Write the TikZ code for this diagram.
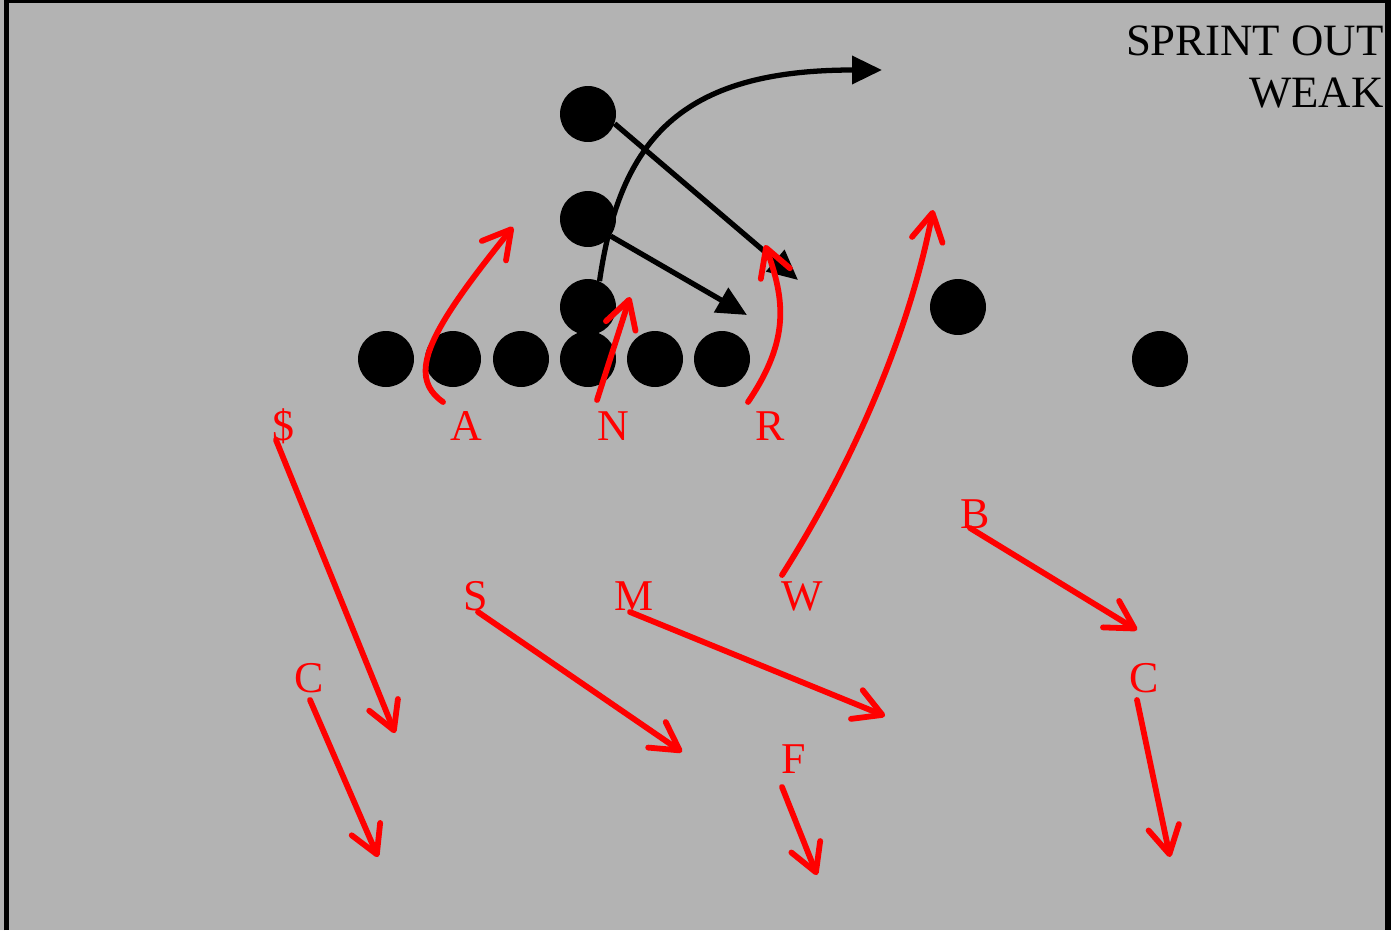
\documentclass[tikz,border=0pt]{standalone}
\usepackage{fontspec}
\setmainfont{Liberation Serif}
\usepackage{xcolor}
\usetikzlibrary{arrows.meta}

\definecolor{field}{HTML}{B3B3B3}

\begin{document}
\begin{tikzpicture}[x=0.02cm, y=-0.02cm,
  plyr/.style={circle, fill=black, inner sep=0pt, minimum size=1.12cm},
  lbl/.style={text=red, anchor=base, inner sep=0pt, font=\fontsize{25}{30}\selectfont},
  rte/.style={draw=red, line width=3.3pt, line cap=round, -{Straight Barb[length=0.55cm, width=0.62cm, round]}},
  blk/.style={draw=black, line width=3pt, -{Triangle[length=0.6cm, width=0.55cm]}}
]
\useasboundingbox (0,0) rectangle (1400,930);

% Field
\fill[field] (0,0) rectangle (1391,930);
\draw[line width=3.4pt] (6.5,930) -- (6.5,0) -- (1388,0) -- (1388,930);

\node[font=\fontsize{25.5}{30}\selectfont, align=right, anchor=north east, inner sep=0pt] (title) at (1384,25) {SPRINT OUT\\WEAK};

% Offense
\node[plyr] (ol1) at (386,359) {};
\node[plyr] (ol2) at (453,359) {};
\node[plyr] (ol3) at (521,359) {};
\node[plyr] (ol4) at (588,359) {};
\node[plyr] (ol5) at (655,359) {};
\node[plyr] (ol6) at (722,359) {};
\node[plyr] (qb)  at (588,307) {};
\node[plyr] (b2)  at (588,219) {};
\node[plyr] (b1)  at (588,114) {};
\node[plyr] (wr1) at (958,307) {};
\node[plyr] (wr2) at (1160,359) {};

% Defense
\node[lbl] (ldol) at (283,440) {\$};
\node[lbl] (lA)   at (466,440) {A};
\node[lbl] (lN)   at (613,440) {N};
\node[lbl] (lR)   at (770,440) {R};
\node[lbl] (lB)   at (975,528) {B};
\node[lbl] (lS)   at (476,610) {S};
\node[lbl] (lM)   at (634,610) {M};
\node[lbl] (lW)   at (802,610) {W};
\node[lbl] (lCl)  at (309,692) {C};
\node[lbl] (lCr)  at (1144,692) {C};
\node[lbl] (lF)   at (794,773) {F};

% Route ends
\coordinate (tqb) at (882,70);
\coordinate (tp1) at (798,280);
\coordinate (tp2) at (747,315);
\coordinate (tdol) at (395,733);
\coordinate (tA) at (513,227);
\coordinate (tN) at (630,297);
\coordinate (tR) at (765,245);
\coordinate (tB) at (1137,630);
\coordinate (tS) at (682,752);
\coordinate (tM) at (885,716);
\coordinate (tW) at (933,210);
\coordinate (tCl) at (378,857);
\coordinate (tCr) at (1170,857);
\coordinate (tF) at (817,875);

% Offense routes
\draw[blk] (qb.66) .. controls (620,140) and (680,70) .. (tqb);
\draw[blk] (b1.-20) -- (tp1);
\draw[blk] (b2.-37) -- (tp2);

% Defense drops
\draw[rte] ([shift={(-7,0)}]ldol.base) -- (tdol);
\draw[rte] ([shift={(-23,-38)}]lA.base) .. controls (405,375) and (430,330) .. (tA);
\draw[rte] ([shift={(-16,-40)}]lN.base) -- (tN);
\draw[rte] ([shift={(-22,-38)}]lR.base) .. controls (790,340) and (785,300) .. (tR);
\draw[rte] ([shift={(-5,0)}]lB.base) -- (tB);
\draw[rte] ([shift={(2,2)}]lS.base) -- (tS);
\draw[rte] ([shift={(-4,2)}]lM.base) -- (tM);
\draw[rte] ([shift={(-20,-35)}]lW.base) .. controls (855,460) and (910,330) .. (tW);
\draw[rte] ([shift={(1,8)}]lCl.base) -- (tCl);
\draw[rte] ([shift={(-7,8)}]lCr.base) -- (tCr);
\draw[rte] ([shift={(-12,14)}]lF.base) -- (tF);

\end{tikzpicture}
\end{document}
